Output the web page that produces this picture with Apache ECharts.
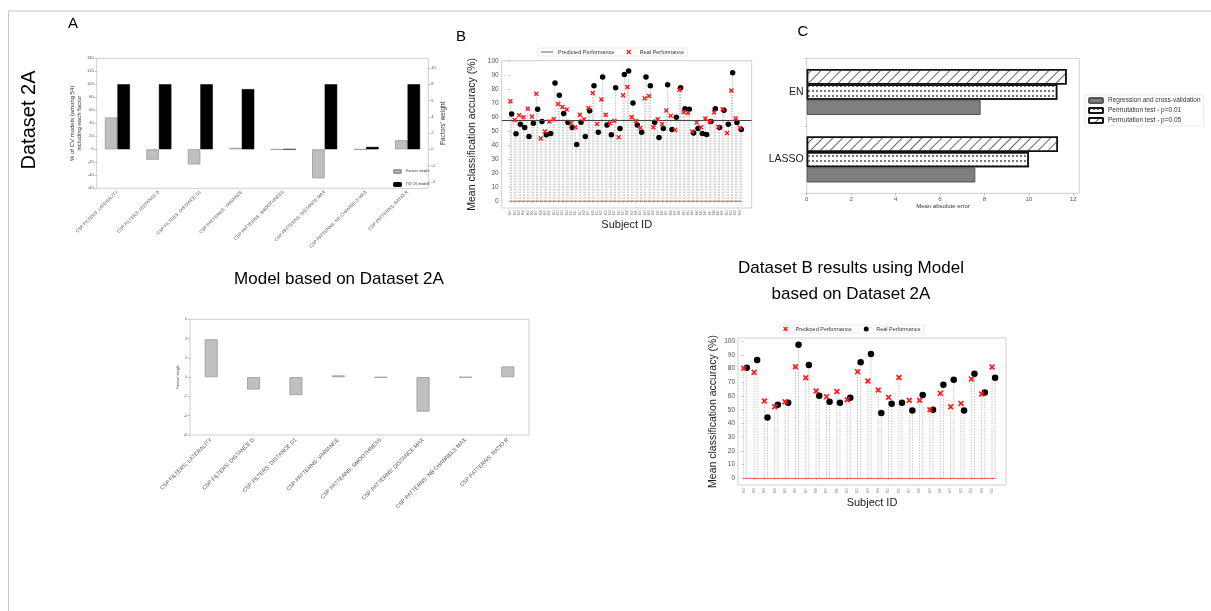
<!DOCTYPE html>
<html><head><meta charset="utf-8">
<script src="https://cdn.jsdelivr.net/npm/echarts@6/dist/echarts.min.js"></script>
<style>html,body{margin:0;padding:0;background:#fff}#c{width:1211px;height:611px}</style>
</head><body><div id="c"></div>
<script>
// ---------- DATA ----------
const factorLabels = [
  'CSP FILTERS: LATERALITY', 'CSP FILTERS: DISTANCE D', 'CSP FILTERS: DISTANCE D1',
  'CSP PATTERNS: VARIANCE', 'CSP PATTERNS: SMOOTHNESS', 'CSP PATTERNS: DISTANCE MAX',
  'CSP PATTERNS: NB CHANNELS MAX', 'CSP PATTERNS: RATIO R'
];
const cvModelPercent = [100, 100, 100, 92.6, 0, 100, 3.7, 100];
const factorWeight = [3.92, -1.28, -1.86, 0.18, -0.03, -3.57, -0.02, 1.11];

const subjectsA = Array.from({length: 54}, (_, i) => 'A' + String(i + 1).padStart(2, '0'));
const realPerfA = [71.3, 58.0, 61.4, 60.0, 66.1, 60.5, 76.8, 44.8, 49.8, 56.9,
  58.5, 69.4, 67.3, 65.4, 55.7, 52.8, 61.8, 58.5, 66.6, 77.3,
  55.2, 72.7, 61.8, 55.7, 57.3, 45.7, 75.6, 81.5, 60.0, 57.3,
  52.4, 73.5, 75.1, 52.8, 58.5, 55.2, 64.7, 61.1, 50.9, 79.6,
  63.7, 63.0, 49.8, 56.2, 52.8, 59.0, 57.0, 63.5, 53.0, 65.6,
  48.8, 79.1, 59.0, 52.4];
const subjectAccA = [62.3, 48.1, 55.0, 52.6, 46.2, 55.7, 65.6, 56.9, 47.4, 48.3,
  84.4, 75.6, 62.6, 56.2, 52.6, 40.5, 56.4, 46.2, 64.5, 82.5,
  49.3, 88.6, 54.5, 47.4, 81.0, 51.9, 90.5, 92.9, 70.1, 54.5,
  49.3, 88.6, 82.5, 56.4, 45.5, 51.9, 83.2, 51.2, 60.0, 81.0,
  66.1, 65.6, 48.8, 51.9, 48.3, 47.6, 56.9, 66.1, 52.6, 64.9,
  55.0, 91.7, 56.2, 51.2];
const predictedPerfA = 57.7;

const subjectsB = Array.from({length: 25}, (_, i) => 'B' + String(i + 1).padStart(2, '0'));
const predictedPerfB = [80.1, 77.2, 56.3, 52.2, 55.8, 81.3, 73.3, 63.6, 59.5, 63.3,
  57.3, 77.7, 70.9, 64.3, 59.0, 73.5, 56.8, 56.8, 50.0, 61.9,
  52.2, 54.6, 72.3, 61.4, 81.1];
const realPerfB = [80.6, 86.2, 44.4, 53.6, 55.1, 97.3, 82.5, 60.2, 55.8, 55.1,
  58.7, 84.5, 90.5, 47.6, 54.4, 55.1, 49.5, 60.7, 50.0, 68.2,
  71.8, 49.5, 76.2, 62.6, 73.3];

const models = ['LASSO', 'EN'];
const maeRegression = [7.59, 7.83];
const maePerm01 = [10.0, 11.28];
const maePerm05 = [11.31, 11.70];

const accTicks = [0, 10, 20, 30, 40, 50, 60, 70, 80, 90, 100];
const weightTicksA = [-4, -2, 0, 2, 4, 6, 8, 10];
const maeTicks = [0, 2, 4, 6, 8, 10, 12];

// ---------- HELPERS ----------
const FONT = 'Liberation Sans';
const OFF = 0.3; // horizontal offset of the second marker of a subject
const X_PATH = 'path://M2,0L5,3L8,0L10,2L7,5L10,8L8,10L5,7L2,10L0,8L3,5L0,2Z';
const LINE_ICON = 'path://M0,4.3L20,4.3L20,5.7L0,5.7Z';
const idxA = subjectsA.map((_, i) => i);
const idxB = subjectsB.map((_, i) => i);
const frame = (l, t, w, h) => ({left: l, top: t, width: w, height: h, show: true,
  borderColor: '#cfcfcf', borderWidth: 1, backgroundColor: 'transparent', containLabel: false, outerBoundsMode: 'none'});
const tick = {show: true, length: 2, lineStyle: {color: '#999', width: 0.6}};
const lbl = (s, extra) => Object.assign({fontSize: s, color: '#555', fontFamily: FONT}, extra || {});
function stem(params, api) {
  const x = api.value(0), y = api.value(1);
  const p0 = api.coord([x, 0]), p1 = api.coord([x, y]);
  return {type: 'line', shape: {x1: p0[0], y1: p0[1], x2: p1[0], y2: p1[1]},
    style: {stroke: '#b5b5b5', lineWidth: 0.8, lineDash: [1.5, 1.2]}};
}
const legendNames = {B_pred: 'Predicted Performance', B_real: 'Real Performance',
  BR_pred: 'Predicted Performance', BR_real: 'Real Performance'};

const option = {
  animation: false,
  backgroundColor: '#fff',
  textStyle: {fontFamily: FONT},
  grid: [
    frame(96.7, 58.3, 331.6, 130),     // A
    frame(501.7, 60.7, 250, 147.3),    // B
    frame(806.7, 58.3, 272.6, 135),    // C
    frame(190, 319.3, 339, 115.7),     // bottom left
    frame(738, 338, 268, 147)          // bottom right
  ],
  xAxis: [
    {type: 'category', gridIndex: 0, data: factorLabels, axisLine: {show: false}, axisTick: {show: false},
      axisLabel: lbl(4.5, {rotate: 45, interval: 0, margin: 3})},
    {type: 'value', gridIndex: 1, min: -2, max: 55.7, axisLine: {show: false}, splitLine: {show: false},
      axisTick: {show: true, length: 2, customValues: idxA, lineStyle: {color: '#aaa', width: 0.5}},
      axisLabel: lbl(3, {customValues: idxA, formatter: v => subjectsA[Math.round(v)], rotate: 90, margin: 2, color: '#888'}),
      name: 'Subject ID', nameLocation: 'middle', nameGap: 9, nameTextStyle: {fontSize: 11, color: '#222', fontFamily: FONT}},
    {type: 'value', gridIndex: 2, min: 0, max: 12.27, axisLine: {show: false}, splitLine: {show: false},
      axisTick: Object.assign({customValues: maeTicks}, tick),
      axisLabel: lbl(6, {customValues: maeTicks, margin: 3}),
      name: 'Mean absolute error', nameLocation: 'middle', nameGap: 10, nameTextStyle: {fontSize: 6, color: '#333', fontFamily: FONT}},
    {type: 'category', gridIndex: 3, data: factorLabels, axisLine: {show: false}, axisTick: {show: false},
      axisLabel: lbl(5.5, {rotate: 45, interval: 0, margin: 4})},
    {type: 'value', gridIndex: 4, min: -0.55, max: 25.35, axisLine: {show: false}, splitLine: {show: false},
      axisTick: {show: true, length: 2, customValues: idxB, lineStyle: {color: '#aaa', width: 0.5}},
      axisLabel: lbl(3, {customValues: idxB, formatter: v => subjectsB[Math.round(v)], rotate: 90, margin: 3, color: '#888'}),
      name: 'Subject ID', nameLocation: 'middle', nameGap: 10, nameTextStyle: {fontSize: 11, color: '#222', fontFamily: FONT}}
  ],
  yAxis: [
    {type: 'value', gridIndex: 0, min: -60, max: 140, interval: 20, axisLine: {show: false}, splitLine: {show: false},
      axisTick: tick, axisLabel: lbl(4, {margin: 3}),
      name: '% of CV models (among 54)\nincluding each factor', nameLocation: 'middle', nameRotate: 90, nameGap: 14,
      nameTextStyle: {fontSize: 6, lineHeight: 7, color: '#333', fontFamily: FONT}},
    {type: 'value', gridIndex: 0, position: 'right', min: -4.8, max: 11.2, axisLine: {show: false}, splitLine: {show: false},
      axisTick: Object.assign({customValues: weightTicksA}, tick), axisLabel: lbl(4, {customValues: weightTicksA, margin: 3}),
      name: "Factors' weight", nameLocation: 'middle', nameRotate: 90, nameGap: 10,
      nameTextStyle: {fontSize: 6.5, color: '#333', fontFamily: FONT}},
    {type: 'value', gridIndex: 1, min: -4.8, max: 100.3, axisLine: {show: false}, splitLine: {show: false},
      axisTick: Object.assign({customValues: accTicks}, tick), axisLabel: lbl(6.5, {customValues: accTicks, margin: 3}),
      name: 'Mean classification accuracy (%)', nameLocation: 'middle', nameRotate: 90, nameGap: 24,
      nameTextStyle: {fontSize: 10.5, color: '#222', fontFamily: FONT}},
    {type: 'category', gridIndex: 2, data: models, axisLine: {show: false}, axisTick: tick,
      axisLabel: lbl(10.5, {color: '#222', margin: 3})},
    {type: 'value', gridIndex: 3, min: -6, max: 6, interval: 2, axisLine: {show: false}, splitLine: {show: false},
      axisTick: tick, axisLabel: lbl(3.5, {margin: 3}),
      name: "Factors' weight", nameLocation: 'middle', nameRotate: 90, nameGap: 8,
      nameTextStyle: {fontSize: 3.5, color: '#333', fontFamily: FONT}},
    {type: 'value', gridIndex: 4, min: -4.8, max: 102.2, axisLine: {show: false}, splitLine: {show: false},
      axisTick: Object.assign({customValues: accTicks}, tick), axisLabel: lbl(6.5, {customValues: accTicks, margin: 3}),
      name: 'Mean classification accuracy (%)', nameLocation: 'middle', nameRotate: 90, nameGap: 19,
      nameTextStyle: {fontSize: 10.5, color: '#222', fontFamily: FONT}}
  ],
  legend: [
    {data: ["Factors' weight", '(%) CV models'], orient: 'vertical', left: 392, top: 168, itemWidth: 7, itemHeight: 3,
      itemGap: 8, padding: 1, textStyle: {fontSize: 3.5, color: '#333'}},
    {data: [{name: 'B_pred', icon: LINE_ICON}, 'B_real'], formatter: n => legendNames[n], left: 538, top: 48,
      itemWidth: 12, itemHeight: 5, itemGap: 12, padding: [1, 3], borderColor: '#ddd', borderWidth: 0.6,
      textStyle: {fontSize: 5.5, color: '#333'}},
    {data: ['Regression and cross-validation', 'Permutation test - p=0.01', 'Permutation test - p=0.05'],
      orient: 'vertical', left: 1085, top: 95, itemWidth: 14, itemHeight: 5, itemGap: 3, padding: [2, 3],
      borderColor: '#ddd', borderWidth: 0.6, textStyle: {fontSize: 6.5, color: '#333'}},
    {data: ['BR_pred', 'BR_real'], formatter: n => legendNames[n], left: 780, top: 325, itemWidth: 10, itemHeight: 5,
      itemGap: 12, padding: [1, 3], borderColor: '#ddd', borderWidth: 0.6, textStyle: {fontSize: 5.5, color: '#333'}}
  ],
  series: [
    // Panel A
    {type: 'bar', name: "Factors' weight", xAxisIndex: 0, yAxisIndex: 1, data: factorWeight, barWidth: 12.5, barGap: '0%',
      itemStyle: {color: '#bfbfbf', borderColor: '#999', borderWidth: 0.8}},
    {type: 'bar', name: '(%) CV models', xAxisIndex: 0, yAxisIndex: 0, data: cvModelPercent, barWidth: 12.5, barGap: '0%',
      itemStyle: {color: '#000', borderColor: '#000', borderWidth: 0.5}},
    // Panel B
    {type: 'custom', xAxisIndex: 1, yAxisIndex: 2, renderItem: stem, data: realPerfA.map((v, i) => [i, v]), silent: true, z: 1},
    {type: 'custom', xAxisIndex: 1, yAxisIndex: 2, renderItem: stem, data: subjectAccA.map((v, i) => [i + OFF, v]), silent: true, z: 1},
    {type: 'line', xAxisIndex: 1, yAxisIndex: 2, data: [[0, 0], [subjectsA.length - 1 + OFF, 0]], symbol: 'none',
      lineStyle: {color: '#e03030', width: 0.8}, silent: true, z: 2},
    {type: 'line', name: 'B_pred', xAxisIndex: 1, yAxisIndex: 2, data: [], symbol: 'none',
      itemStyle: {color: '#444'}, lineStyle: {color: '#444', width: 1.2},
      markLine: {symbol: 'none', silent: true, label: {show: false}, lineStyle: {color: '#444', width: 1.2, type: 'solid'},
        data: [{yAxis: predictedPerfA}]}, z: 3},
    {type: 'scatter', name: 'B_subj', xAxisIndex: 1, yAxisIndex: 2, data: subjectAccA.map((v, i) => [i + OFF, v]),
      symbolSize: 5.5, itemStyle: {color: '#000', opacity: 1}, z: 4},
    {type: 'scatter', name: 'B_real', xAxisIndex: 1, yAxisIndex: 2, data: realPerfA.map((v, i) => [i, v]),
      symbol: X_PATH, symbolSize: 5, itemStyle: {color: '#ff1a1a', opacity: 1}, z: 5},
    // Panel C (first series is drawn at the top of each group)
    {type: 'bar', name: 'Permutation test - p=0.05', xAxisIndex: 2, yAxisIndex: 3, data: maePerm05,
      barWidth: 15.3, barGap: '0%', itemStyle: {color: '#fff', borderColor: '#111', borderWidth: 1.5,
        decal: {symbol: 'rect', symbolSize: 1, dashArrayX: [1, 0], dashArrayY: [0.7, 6], rotation: -Math.PI / 4, color: '#666'}}},
    {type: 'bar', name: 'Permutation test - p=0.01', xAxisIndex: 2, yAxisIndex: 3, data: maePerm01,
      barWidth: 15.3, barGap: '0%', itemStyle: {color: '#fff', borderColor: '#111', borderWidth: 1.5,
        decal: {symbol: 'rect', symbolSize: 1, dashArrayX: [2, 2], dashArrayY: [1.5, 2.5], color: '#777'}}},
    {type: 'bar', name: 'Regression and cross-validation', xAxisIndex: 2, yAxisIndex: 3, data: maeRegression,
      barWidth: 15.3, barGap: '0%', itemStyle: {color: '#7f7f7f', borderColor: '#555', borderWidth: 1}},
    // Bottom left
    {type: 'bar', name: 'weights2A', xAxisIndex: 3, yAxisIndex: 4, data: factorWeight, barWidth: 13,
      itemStyle: {color: '#bfbfbf', borderColor: '#999', borderWidth: 0.8}},
    // Bottom right
    {type: 'custom', xAxisIndex: 4, yAxisIndex: 5, renderItem: stem, data: predictedPerfB.map((v, i) => [i, v]), silent: true, z: 1},
    {type: 'custom', xAxisIndex: 4, yAxisIndex: 5, renderItem: stem, data: realPerfB.map((v, i) => [i + OFF, v]), silent: true, z: 1},
    {type: 'line', xAxisIndex: 4, yAxisIndex: 5, data: [[0, 0], [subjectsB.length - 1 + OFF, 0]], symbol: 'none',
      lineStyle: {color: '#e03030', width: 0.8}, silent: true, z: 2},
    {type: 'scatter', name: 'BR_pred', xAxisIndex: 4, yAxisIndex: 5, data: predictedPerfB.map((v, i) => [i, v]),
      symbol: X_PATH, symbolSize: 6, itemStyle: {color: '#ff1a1a', opacity: 1}, z: 5},
    {type: 'scatter', name: 'BR_real', xAxisIndex: 4, yAxisIndex: 5, data: realPerfB.map((v, i) => [i + OFF, v]),
      symbolSize: 6.5, itemStyle: {color: '#000', opacity: 1}, z: 4}
  ],
  graphic: [
    {type: 'line', shape: {x1: 8.5, y1: 11, x2: 1211, y2: 11}, style: {stroke: '#c4c4c4', lineWidth: 1}, silent: true},
    {type: 'line', shape: {x1: 8.5, y1: 11, x2: 8.5, y2: 611}, style: {stroke: '#c4c4c4', lineWidth: 1}, silent: true},
    {type: 'text', x: 73, y: 24, style: {text: 'A', fontSize: 15, fontFamily: FONT, fill: '#000', align: 'center', verticalAlign: 'middle'}},
    {type: 'text', x: 461, y: 37, style: {text: 'B', fontSize: 15, fontFamily: FONT, fill: '#000', align: 'center', verticalAlign: 'middle'}},
    {type: 'text', x: 803, y: 32, style: {text: 'C', fontSize: 15, fontFamily: FONT, fill: '#000', align: 'center', verticalAlign: 'middle'}},
    {type: 'text', x: 29, y: 120, rotation: Math.PI / 2,
      style: {text: 'Dataset 2A', fontSize: 20, fontFamily: FONT, fill: '#000', align: 'center', verticalAlign: 'middle'}},
    {type: 'text', x: 339, y: 279, style: {text: 'Model based on Dataset 2A', fontSize: 17, fontFamily: FONT, fill: '#000',
      align: 'center', verticalAlign: 'middle'}},
    {type: 'text', x: 851, y: 281, style: {text: 'Dataset B results using Model\nbased on Dataset 2A', fontSize: 17,
      lineHeight: 26, fontFamily: FONT, fill: '#000', align: 'center', verticalAlign: 'middle'}}
  ]
};
const chart = echarts.init(document.getElementById('c'), null, {renderer: 'canvas'});
chart.setOption(option);
</script>
</body></html>
